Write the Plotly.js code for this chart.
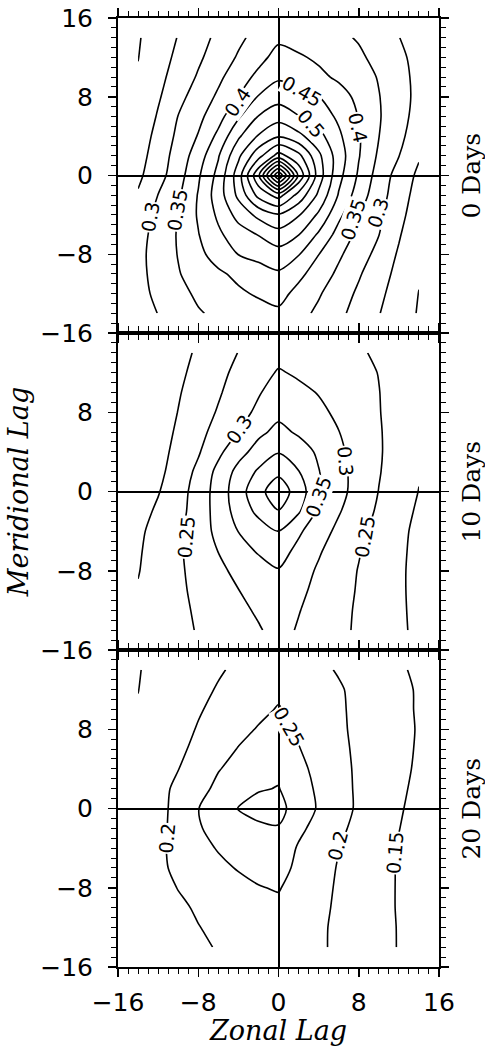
<!DOCTYPE html>
<html>
<head>
<meta charset="utf-8">
<script src="https://cdn.plot.ly/plotly-3.0.1.min.js"></script>
<style>
  html, body { margin: 0; padding: 0; background: #fff; }
  #chart { width: 485px; height: 1046px; }
</style>
</head>
<body>
<div id="chart"></div>
<script>
// Grid of lags (units as on the axes)
const zonalLags = [-14, -12, -10, -8, -6, -4, -2, 0, 2, 4, 6, 8, 10, 12, 14];
const meridionalLags = [-14, -12, -10, -8, -6, -4, -2, 0, 2, 4, 6, 8, 10, 12, 14];

// Correlation fields; rows go from meridional lag -14 up to +14
const day0Z = [
  [0.279, 0.301, 0.323, 0.346, 0.359, 0.369, 0.380, 0.391, 0.366, 0.340, 0.311, 0.282, 0.252, 0.224, 0.196],
  [0.285, 0.310, 0.336, 0.358, 0.375, 0.392, 0.406, 0.417, 0.385, 0.355, 0.323, 0.292, 0.260, 0.230, 0.199],
  [0.286, 0.317, 0.347, 0.370, 0.392, 0.411, 0.427, 0.443, 0.412, 0.377, 0.340, 0.305, 0.271, 0.236, 0.204],
  [0.287, 0.319, 0.352, 0.388, 0.420, 0.451, 0.466, 0.481, 0.453, 0.401, 0.358, 0.321, 0.286, 0.244, 0.207],
  [0.282, 0.318, 0.354, 0.398, 0.441, 0.477, 0.502, 0.530, 0.502, 0.443, 0.381, 0.337, 0.301, 0.255, 0.209],
  [0.273, 0.312, 0.351, 0.405, 0.459, 0.517, 0.563, 0.595, 0.554, 0.492, 0.412, 0.353, 0.310, 0.266, 0.220],
  [0.255, 0.301, 0.342, 0.403, 0.475, 0.561, 0.665, 0.720, 0.633, 0.540, 0.446, 0.375, 0.320, 0.274, 0.230],
  [0.240, 0.281, 0.329, 0.393, 0.465, 0.575, 0.740, 1.000, 0.740, 0.575, 0.465, 0.393, 0.329, 0.281, 0.240],
  [0.230, 0.274, 0.320, 0.375, 0.446, 0.540, 0.633, 0.720, 0.665, 0.561, 0.475, 0.403, 0.342, 0.301, 0.255],
  [0.220, 0.266, 0.310, 0.353, 0.412, 0.492, 0.554, 0.595, 0.563, 0.517, 0.459, 0.405, 0.351, 0.312, 0.273],
  [0.209, 0.255, 0.301, 0.337, 0.381, 0.443, 0.502, 0.530, 0.502, 0.477, 0.441, 0.398, 0.354, 0.318, 0.282],
  [0.207, 0.244, 0.286, 0.321, 0.358, 0.401, 0.453, 0.481, 0.466, 0.451, 0.420, 0.388, 0.352, 0.319, 0.287],
  [0.204, 0.236, 0.271, 0.305, 0.340, 0.377, 0.412, 0.443, 0.427, 0.411, 0.392, 0.370, 0.347, 0.317, 0.286],
  [0.199, 0.230, 0.260, 0.292, 0.323, 0.355, 0.385, 0.417, 0.406, 0.392, 0.375, 0.358, 0.336, 0.310, 0.285],
  [0.196, 0.224, 0.252, 0.282, 0.311, 0.340, 0.366, 0.391, 0.380, 0.369, 0.359, 0.346, 0.323, 0.301, 0.279]
];

const day10Z = [
  [0.207, 0.222, 0.238, 0.253, 0.267, 0.281, 0.296, 0.315, 0.296, 0.279, 0.261, 0.243, 0.225, 0.208, 0.190],
  [0.205, 0.222, 0.240, 0.256, 0.273, 0.289, 0.306, 0.326, 0.302, 0.283, 0.263, 0.244, 0.226, 0.207, 0.189],
  [0.203, 0.222, 0.241, 0.261, 0.280, 0.299, 0.318, 0.336, 0.310, 0.288, 0.267, 0.246, 0.226, 0.207, 0.187],
  [0.198, 0.220, 0.242, 0.266, 0.290, 0.311, 0.329, 0.347, 0.320, 0.294, 0.271, 0.248, 0.228, 0.207, 0.187],
  [0.195, 0.219, 0.243, 0.271, 0.301, 0.330, 0.355, 0.371, 0.337, 0.305, 0.278, 0.253, 0.230, 0.209, 0.187],
  [0.191, 0.216, 0.241, 0.275, 0.313, 0.351, 0.376, 0.401, 0.358, 0.321, 0.289, 0.261, 0.236, 0.212, 0.188],
  [0.181, 0.208, 0.235, 0.271, 0.320, 0.369, 0.412, 0.448, 0.406, 0.341, 0.304, 0.272, 0.243, 0.218, 0.193],
  [0.163, 0.197, 0.230, 0.270, 0.321, 0.378, 0.434, 0.480, 0.426, 0.358, 0.315, 0.281, 0.249, 0.223, 0.199],
  [0.154, 0.188, 0.222, 0.261, 0.314, 0.365, 0.407, 0.439, 0.402, 0.352, 0.315, 0.282, 0.253, 0.226, 0.203],
  [0.152, 0.183, 0.214, 0.245, 0.289, 0.333, 0.368, 0.397, 0.371, 0.343, 0.309, 0.281, 0.255, 0.228, 0.206],
  [0.150, 0.179, 0.207, 0.236, 0.267, 0.301, 0.340, 0.362, 0.344, 0.322, 0.301, 0.277, 0.254, 0.230, 0.209],
  [0.149, 0.175, 0.201, 0.228, 0.254, 0.282, 0.310, 0.339, 0.324, 0.309, 0.292, 0.272, 0.252, 0.231, 0.212],
  [0.148, 0.172, 0.196, 0.221, 0.245, 0.271, 0.296, 0.321, 0.310, 0.298, 0.283, 0.267, 0.251, 0.232, 0.215],
  [0.143, 0.167, 0.190, 0.214, 0.238, 0.261, 0.283, 0.304, 0.294, 0.283, 0.272, 0.261, 0.249, 0.232, 0.218],
  [0.145, 0.162, 0.184, 0.207, 0.229, 0.251, 0.268, 0.286, 0.278, 0.270, 0.262, 0.254, 0.245, 0.233, 0.222]
];

const day20Z = [
  [0.160, 0.172, 0.184, 0.195, 0.202, 0.207, 0.211, 0.216, 0.210, 0.204, 0.195, 0.179, 0.164, 0.148, 0.132],
  [0.164, 0.176, 0.188, 0.199, 0.207, 0.214, 0.221, 0.228, 0.217, 0.206, 0.193, 0.178, 0.163, 0.148, 0.133],
  [0.170, 0.182, 0.194, 0.204, 0.213, 0.222, 0.231, 0.240, 0.225, 0.209, 0.194, 0.178, 0.163, 0.147, 0.131],
  [0.176, 0.188, 0.201, 0.213, 0.225, 0.237, 0.248, 0.253, 0.232, 0.213, 0.195, 0.179, 0.163, 0.147, 0.131],
  [0.176, 0.192, 0.208, 0.224, 0.240, 0.253, 0.261, 0.268, 0.239, 0.218, 0.197, 0.181, 0.164, 0.147, 0.130],
  [0.169, 0.191, 0.213, 0.236, 0.253, 0.263, 0.272, 0.282, 0.245, 0.223, 0.201, 0.182, 0.165, 0.147, 0.130],
  [0.163, 0.186, 0.217, 0.247, 0.261, 0.273, 0.290, 0.297, 0.261, 0.233, 0.209, 0.188, 0.169, 0.151, 0.132],
  [0.165, 0.183, 0.217, 0.249, 0.276, 0.302, 0.318, 0.314, 0.279, 0.245, 0.218, 0.193, 0.174, 0.155, 0.135],
  [0.162, 0.184, 0.211, 0.237, 0.259, 0.278, 0.296, 0.302, 0.271, 0.242, 0.216, 0.193, 0.175, 0.158, 0.140],
  [0.160, 0.174, 0.199, 0.223, 0.248, 0.262, 0.276, 0.290, 0.262, 0.237, 0.213, 0.193, 0.177, 0.160, 0.144],
  [0.158, 0.170, 0.191, 0.211, 0.232, 0.252, 0.264, 0.277, 0.252, 0.231, 0.210, 0.192, 0.177, 0.161, 0.146],
  [0.156, 0.167, 0.185, 0.203, 0.220, 0.238, 0.253, 0.265, 0.244, 0.225, 0.207, 0.191, 0.176, 0.162, 0.147],
  [0.152, 0.167, 0.181, 0.196, 0.211, 0.226, 0.240, 0.253, 0.237, 0.221, 0.206, 0.190, 0.176, 0.161, 0.146],
  [0.1495, 0.163, 0.176, 0.190, 0.203, 0.215, 0.228, 0.241, 0.229, 0.216, 0.204, 0.190, 0.175, 0.160, 0.146],
  [0.148, 0.161, 0.173, 0.184, 0.196, 0.207, 0.218, 0.229, 0.219, 0.208, 0.197, 0.183, 0.169, 0.156, 0.142]
];

// Contour level ranges [first, last] per panel (interval 0.05)
const day0Range = [0.20, 0.95];
const day10Range = [0.20, 0.45];
const day20Range = [0.15, 0.30];
const levelStep = 0.05;

// In-line contour labels: [level, zonal lag, meridional lag, text angle]
const day0Labels = [
  [0.3, -12.8, -4.2, -80], [0.35, -10.1, -3.5, -80], [0.4, -4.1, 7.5, -55],
  [0.45, 2.3, 8.6, 30], [0.5, 3.2, 5.3, 50], [0.4, 7.9, 4.9, 78],
  [0.35, 7.4, -4.5, -72], [0.3, 9.9, -3.8, -72]
];
const day10Labels = [
  [0.3, -3.9, 6.3, -55], [0.25, -9.2, -4.6, -85], [0.35, 4.0, -0.6, -70],
  [0.3, 6.7, 3.1, 85], [0.25, 8.6, -4.6, -80]
];
const day20Labels = [
  [0.2, -11.1, -3.0, -85], [0.25, 1.0, 8.3, 60], [0.2, 5.9, -3.8, -75], [0.15, 11.6, -4.5, -85]
];

const panelLabels = ['0 Days', '10 Days', '20 Days'];
const axisTickVals = [-16, -8, 0, 8, 16];
const yTickTextTop = ['\u221216', '\u22128', '0', '8', '16'];
const yTickTextLower = ['\u221216', '\u22128', '0', '8', ''];
const xTickText = ['\u221216', '\u22128', '0', '8', '16'];

function contourTrace(z, range, xa, ya) {
  return {
    type: 'contour',
    x: zonalLags,
    y: meridionalLags,
    z: z,
    xaxis: xa,
    yaxis: ya,
    autocontour: false,
    contours: { start: range[0], end: range[1] + 1e-6, size: levelStep, coloring: 'none', showlabels: false },
    line: { color: '#000', width: 1.6, smoothing: 0.8 },
    showscale: false,
    hoverinfo: 'skip'
  };
}

const traces = [
  contourTrace(day0Z, day0Range, 'x', 'y'),
  contourTrace(day10Z, day10Range, 'x2', 'y2'),
  contourTrace(day20Z, day20Range, 'x3', 'y3')
];

function labelAnnotations(list, xa, ya) {
  return list.map(function (l) {
    return {
      text: String(l[0]), x: l[1], y: l[2], xref: xa, yref: ya,
      xanchor: 'center', yanchor: 'middle', showarrow: false, textangle: l[3],
      bgcolor: '#fff', borderpad: 0,
      font: { family: 'DejaVu Sans, sans-serif', size: 19, color: '#000' }
    };
  });
}

const tickFont = { family: 'DejaVu Sans, sans-serif', size: 25, color: '#000' };
function axisBase() {
  return {
    range: [-16, 16],
    showgrid: false,
    zeroline: true, zerolinecolor: '#000', zerolinewidth: 2,
    showline: true, linecolor: '#000', linewidth: 2,
    mirror: 'allticks',
    ticks: 'outside', ticklen: 8, tickwidth: 1.5, tickcolor: '#000',
    tickmode: 'array', tickvals: axisTickVals,
    minor: { tickmode: 'linear', tick0: 0, dtick: 1, ticks: 'outside', ticklen: 5, tickwidth: 1, tickcolor: '#000', showgrid: false },
    tickfont: tickFont,
    ticklabelstandoff: 10,
    fixedrange: true
  };
}

const d3 = 317 / 949, d2 = 634 / 949;
const titleFont = { family: 'DejaVu Serif, serif', size: 27, style: 'italic', color: '#000' };
const layout = {
  width: 485, height: 1046,
  margin: { l: 118, r: 46, t: 18, b: 79 },
  paper_bgcolor: '#fff', plot_bgcolor: '#fff',
  showlegend: false,
  xaxis: Object.assign(axisBase(), { anchor: 'y', showticklabels: false }),
  xaxis2: Object.assign(axisBase(), { anchor: 'y2', showticklabels: false }),
  xaxis3: Object.assign(axisBase(), {
    anchor: 'y3', ticktext: xTickText, ticklabelstandoff: 4,
    title: { text: 'Zonal Lag', standoff: 2, font: titleFont }
  }),
  yaxis: Object.assign(axisBase(), { anchor: 'x', domain: [d2, 1], ticktext: yTickTextTop }),
  yaxis2: Object.assign(axisBase(), {
    anchor: 'x2', domain: [d3, d2], ticktext: yTickTextLower,
    title: { text: 'Meridional Lag', standoff: 4, font: titleFont }
  }),
  yaxis3: Object.assign(axisBase(), { anchor: 'x3', domain: [0, d3], ticktext: yTickTextLower }),
  annotations: [].concat(
    panelLabels.map(function (t, i) {
      return {
        text: t, xref: 'paper', yref: 'paper',
        x: 1.1, y: [(d2 + 1) / 2, (d3 + d2) / 2, d3 / 2][i],
        xanchor: 'center', yanchor: 'middle', textangle: -90, showarrow: false,
        font: { family: 'DejaVu Serif, serif', size: 25, color: '#000' }
      };
    }),
    labelAnnotations(day0Labels, 'x', 'y'),
    labelAnnotations(day10Labels, 'x2', 'y2'),
    labelAnnotations(day20Labels, 'x3', 'y3')
  )
};

Plotly.newPlot('chart', traces, layout, { staticPlot: true, displayModeBar: false });
</script>
</body>
</html>
